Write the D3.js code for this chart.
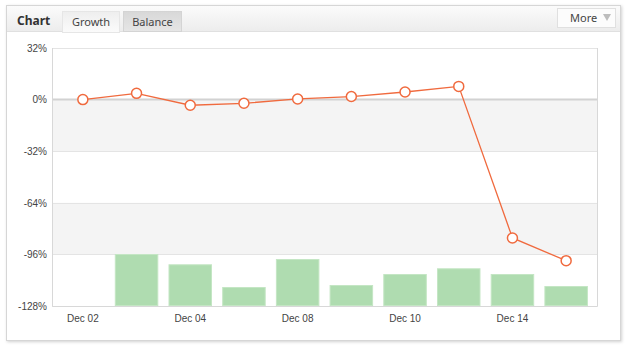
<!DOCTYPE html>
<html>
<head>
<meta charset="utf-8">
<script src="https://cdn.jsdelivr.net/npm/d3@7"></script>
<style>
  html, body { margin: 0; padding: 0; background: #fff; }
  svg { display: block; font-family: Tahoma, "Noto Sans", "DejaVu Sans", sans-serif; }
  .tick text { fill: #444; font-size: 10px; }
</style>
</head>
<body>
<div id="chart"></div>
<script>
// categories (trading days)
const days = ['Dec 02', 'Dec 03', 'Dec 04', 'Dec 07', 'Dec 08', 'Dec 09', 'Dec 10', 'Dec 11', 'Dec 14', 'Dec 15'];
// growth, %
const growth = [0, 3.9, -3.5, -2.3, 0.4, 1.9, 4.7, 8.2, -85.8, -99.9];
// volume bars (hidden axis)
const volume = [0, 5.2, 4.17, 1.9, 4.7, 2.1, 3.2, 3.77, 3.2, 2.0];
const yTicks = [32, 0, -32, -64, -96, -128];
const xLabels = ['Dec 02', 'Dec 04', 'Dec 08', 'Dec 10', 'Dec 14'];
const tabs = ['Growth', 'Balance'];

const W = 625, H = 347;
const plot = { left: 52, right: 597, top: 48, bottom: 306 };

const svg = d3.select('#chart').append('svg')
  .attr('width', W)
  .attr('height', H);

const defs = svg.append('defs');
const hdr = defs.append('linearGradient').attr('id', 'hdr').attr('x1', 0).attr('y1', 0).attr('x2', 0).attr('y2', 1);
hdr.append('stop').attr('offset', '0%').attr('stop-color', '#fbfbfb');
hdr.append('stop').attr('offset', '100%').attr('stop-color', '#ececec');
const tabOn = defs.append('linearGradient').attr('id', 'tabOn').attr('x1', 0).attr('y1', 0).attr('x2', 0).attr('y2', 1);
tabOn.append('stop').attr('offset', '0%').attr('stop-color', '#eeeeee');
tabOn.append('stop').attr('offset', '100%').attr('stop-color', '#fbfbfb');
const tabOff = defs.append('linearGradient').attr('id', 'tabOff').attr('x1', 0).attr('y1', 0).attr('x2', 0).attr('y2', 1);
tabOff.append('stop').attr('offset', '0%').attr('stop-color', '#d8d8d8');
tabOff.append('stop').attr('offset', '100%').attr('stop-color', '#e6e6e6');
const shadow = defs.append('filter').attr('id', 'shadow').attr('x', '-5%').attr('y', '-5%').attr('width', '110%').attr('height', '110%');
shadow.append('feDropShadow').attr('dx', 1).attr('dy', 1).attr('stdDeviation', 1.5).attr('flood-color', '#000').attr('flood-opacity', 0.18);

// card
svg.append('rect')
  .attr('x', 6.5).attr('y', 5.5).attr('width', 614).attr('height', 335)
  .attr('fill', '#fff').attr('stroke', '#d6d6d6')
  .attr('filter', 'url(#shadow)');

// header bar
svg.append('rect')
  .attr('x', 7).attr('y', 6).attr('width', 613).attr('height', 26)
  .attr('fill', 'url(#hdr)');
svg.append('line')
  .attr('x1', 7).attr('x2', 620).attr('y1', 31.5).attr('y2', 31.5)
  .attr('stroke', '#e0e0e0');

svg.append('text')
  .attr('x', 17).attr('y', 25)
  .attr('font-size', 12).attr('font-weight', 'bold').attr('fill', '#333')
  .text('Chart');

const tabX = d3.scaleOrdinal().domain(tabs).range([62, 123]);
const tabW = d3.scaleOrdinal().domain(tabs).range([57, 58]);
tabs.forEach((t, i) => {
  const g = svg.append('g').attr('transform', `translate(${tabX(t)},11)`);
  g.append('rect')
    .attr('x', 0.5).attr('y', 0.5)
    .attr('width', tabW(t)).attr('height', i === 0 ? 21 : 20)
    .attr('fill', i === 0 ? 'url(#tabOn)' : 'url(#tabOff)')
    .attr('stroke', i === 0 ? '#e6e6e6' : '#d4d4d4');
  g.append('text')
    .attr('x', tabW(t) / 2 + 0.5).attr('y', 15)
    .attr('text-anchor', 'middle')
    .attr('font-size', 11).attr('fill', '#444')
    .text(t);
});

// More button
svg.append('rect')
  .attr('x', 557.5).attr('y', 8.5).attr('width', 58).attr('height', 19)
  .attr('fill', '#fcfcfc').attr('stroke', '#e0e0e0');
svg.append('text')
  .attr('x', 570).attr('y', 22)
  .attr('font-size', 11).attr('fill', '#444')
  .text('More');
svg.append('path')
  .attr('d', 'M603,14 L611,14 L607,21 Z')
  .attr('fill', '#bdbdbd');

// scales
const x = d3.scaleBand().domain(days).range([56, 593]).paddingInner(0.19).paddingOuter(0.095);
const y = d3.scaleLinear().domain([-128, 32]).range([plot.bottom, plot.top]);
const yVol = d3.scaleLinear().domain([0, 25.8]).range([plot.bottom, plot.top]);
const cx = d => x(d) + x.bandwidth() / 2;

// alternate bands
const bands = d3.pairs(yTicks).filter((p, i) => i % 2 === 1);
svg.append('g').selectAll('rect')
  .data(bands)
  .join('rect')
    .attr('x', plot.left).attr('width', plot.right - plot.left)
    .attr('y', d => y(d[0])).attr('height', d => y(d[1]) - y(d[0]))
    .attr('fill', '#f4f4f4');

// grid lines
svg.append('g').selectAll('line')
  .data(yTicks.filter(v => v !== 0))
  .join('line')
    .attr('x1', plot.left).attr('x2', plot.right)
    .attr('y1', d => Math.round(y(d)) + 0.5).attr('y2', d => Math.round(y(d)) + 0.5)
    .attr('stroke', '#e4e4e4');

// bars
svg.append('g').selectAll('rect')
  .data(volume.map((v, i) => ({ day: days[i], v })).filter(d => d.v > 0))
  .join('rect')
    .attr('x', d => x(d.day) + 0.5)
    .attr('y', d => yVol(d.v) + 0.5)
    .attr('width', x.bandwidth() - 1)
    .attr('height', d => yVol(0) - yVol(d.v) - 1)
    .attr('fill', '#afdcb0')
    .attr('stroke', '#c4e6c4');

// zero line
svg.append('line')
  .attr('x1', plot.left).attr('x2', plot.right)
  .attr('y1', y(0)).attr('y2', y(0))
  .attr('stroke', '#d2d2d2').attr('stroke-width', 2);

// plot frame: left, right, bottom
svg.append('path')
  .attr('d', `M${plot.left + 0.5},${plot.top} V${plot.bottom + 0.5} H${plot.right + 0.5} V${plot.top}`)
  .attr('fill', 'none').attr('stroke', '#d8d8d8');

// y axis labels
svg.append('g')
  .attr('transform', `translate(${plot.left},0)`)
  .call(d3.axisLeft(y).tickValues(yTicks).tickSize(0).tickPadding(5).tickFormat(d => d + '%'))
  .call(g => g.select('.domain').remove())
  .selectAll('text').attr('font-size', 10);

// x axis labels
svg.append('g')
  .attr('transform', `translate(0,${plot.bottom})`)
  .call(d3.axisBottom(x).tickValues(xLabels).tickSize(0).tickPadding(9))
  .call(g => g.select('.domain').remove());

// growth line
const line = d3.line().x((d, i) => cx(days[i])).y(d => y(d));
svg.append('path')
  .datum(growth)
  .attr('d', line)
  .attr('fill', 'none')
  .attr('stroke', '#f06a3e')
  .attr('stroke-width', 1.3);

svg.append('g').selectAll('circle')
  .data(growth)
  .join('circle')
    .attr('cx', (d, i) => cx(days[i]))
    .attr('cy', d => y(d))
    .attr('r', 5)
    .attr('fill', '#fff')
    .attr('stroke', '#f06a3e')
    .attr('stroke-width', 1.5);
</script>
</body>
</html>
